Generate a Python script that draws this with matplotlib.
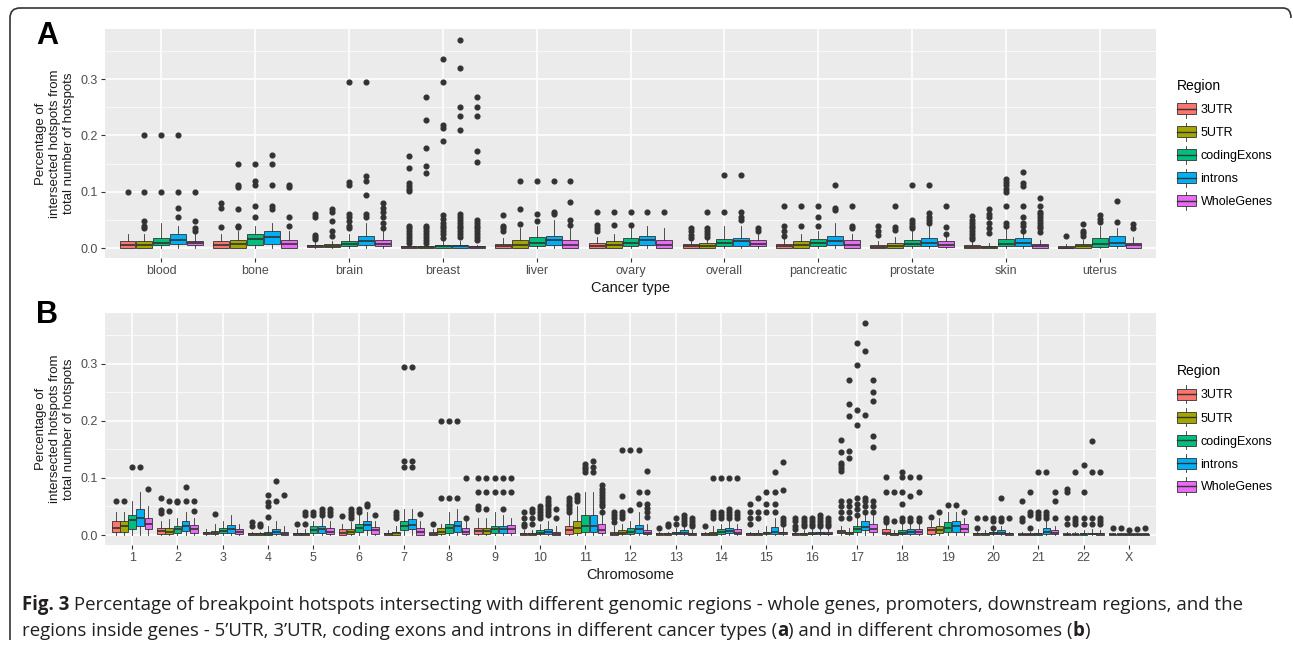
import matplotlib
matplotlib.use('Agg')
import matplotlib.pyplot as plt
from matplotlib.patches import Rectangle, Patch, PathPatch
from matplotlib.path import Path
from matplotlib.lines import Line2D
from matplotlib.legend_handler import HandlerBase

# ---------------- data ----------------
regions = ['3UTR', '5UTR', 'codingExons', 'introns', 'WholeGenes']
region_colors = ['#F8766D', '#A3A500', '#00BF7D', '#00B0F6', '#E76BF3']

cancer_types = ['blood', 'bone', 'brain', 'breast', 'liver', 'ovary', 'overall',
                'pancreatic', 'prostate', 'skin', 'uterus']
chromosomes = [str(i) for i in range(1, 23)] + ['X']

# box stats: (whisker low, q1, median, q3, whisker high)
a_3utr_box = [(0, 0.0, 0.005, 0.012, 0.025), (0, 0.0, 0.006, 0.013, 0.025), (0, 0.002, 0.004, 0.006, 0.012),
              (0, 0.001, 0.002, 0.003, 0.006), (0, 0.0, 0.003, 0.008, 0.018), (0, 0.0, 0.004, 0.009, 0.02),
              (0, 0.0, 0.003, 0.007, 0.014), (0, 0.0, 0.004, 0.008, 0.016), (0, 0.0, 0.002, 0.006, 0.012),
              (0, 0.0, 0.002, 0.006, 0.012), (0, 0.0, 0.001, 0.004, 0.008)]
a_3utr_out = [[0.1], [0.038, 0.072, 0.08], [0.016, 0.02, 0.023, 0.055, 0.06],
              [0.01, 0.015, 0.02, 0.025, 0.03, 0.035, 0.04, 0.101, 0.105, 0.11, 0.115, 0.142, 0.164],
              [0.03, 0.035, 0.04, 0.058], [0.03, 0.035, 0.041, 0.065], [0.018, 0.024, 0.03, 0.035],
              [0.022, 0.03, 0.039, 0.074], [0.023, 0.03, 0.039],
              [0.016, 0.02, 0.025, 0.03, 0.035, 0.04, 0.045, 0.05, 0.057], [0.022]]

a_5utr_box = [(0, 0.0, 0.005, 0.012, 0.025), (0, 0.0, 0.007, 0.015, 0.03), (0, 0.002, 0.004, 0.007, 0.012),
              (0, 0.001, 0.002, 0.003, 0.006), (0, 0.0, 0.006, 0.015, 0.035), (0, 0.0, 0.006, 0.012, 0.025),
              (0, 0.0, 0.004, 0.01, 0.015), (0, 0.0, 0.005, 0.012, 0.025), (0, 0.0, 0.004, 0.01, 0.02),
              (0, 0.0, 0.002, 0.004, 0.01), (0, 0.0, 0.003, 0.008, 0.015)]
a_5utr_out = [[0.035, 0.04, 0.048, 0.1, 0.2], [0.037, 0.04, 0.07, 0.108, 0.112, 0.15],
              [0.022, 0.03, 0.048, 0.065, 0.07],
              [0.01, 0.015, 0.02, 0.025, 0.03, 0.035, 0.04, 0.133, 0.146, 0.178, 0.228, 0.269],
              [0.042, 0.07, 0.12], [0.041, 0.065], [0.02, 0.025, 0.03, 0.035, 0.065], [0.039, 0.074],
              [0.033, 0.037, 0.074], [0.027, 0.035, 0.045, 0.055, 0.06, 0.07], [0.022, 0.026, 0.03, 0.042]]

a_cod_box = [(0, 0.005, 0.01, 0.018, 0.045), (0, 0.005, 0.017, 0.025, 0.04), (0, 0.003, 0.007, 0.012, 0.025),
             (0, 0.001, 0.003, 0.005, 0.012), (0, 0.003, 0.01, 0.02, 0.04), (0, 0.003, 0.01, 0.018, 0.035),
             (0, 0.003, 0.01, 0.017, 0.04), (0, 0.004, 0.01, 0.017, 0.03), (0, 0.003, 0.007, 0.014, 0.03),
             (0, 0.003, 0.008, 0.016, 0.035), (0, 0.002, 0.008, 0.018, 0.04)]
a_cod_out = [[0.1, 0.2], [0.055, 0.075, 0.112, 0.12, 0.15],
             [0.035, 0.04, 0.048, 0.055, 0.06, 0.112, 0.118, 0.295],
             [0.018, 0.025, 0.03, 0.035, 0.04, 0.045, 0.052, 0.058, 0.19, 0.214, 0.219, 0.295, 0.336],
             [0.048, 0.06, 0.12], [0.041, 0.065], [0.065, 0.13], [0.04, 0.055, 0.074],
             [0.035, 0.04, 0.045, 0.05, 0.112], [0.04, 0.045, 0.074, 0.1, 0.105, 0.112, 0.118, 0.122],
             [0.046, 0.052, 0.058]]

a_int_box = [(0, 0.008, 0.015, 0.025, 0.04), (0, 0.008, 0.02, 0.03, 0.045), (0, 0.005, 0.012, 0.022, 0.045),
             (0, 0.001, 0.003, 0.005, 0.012), (0, 0.005, 0.014, 0.022, 0.05), (0, 0.006, 0.015, 0.022, 0.04),
             (0, 0.004, 0.012, 0.018, 0.04), (0, 0.006, 0.013, 0.022, 0.045), (0, 0.004, 0.01, 0.018, 0.04),
             (0, 0.004, 0.01, 0.018, 0.035), (0, 0.003, 0.01, 0.022, 0.035)]
a_int_out = [[0.055, 0.072, 0.1, 0.2], [0.07, 0.075, 0.112, 0.15, 0.165],
             [0.055, 0.06, 0.095, 0.12, 0.128, 0.295],
             [0.02, 0.025, 0.03, 0.035, 0.04, 0.045, 0.05, 0.055, 0.06, 0.209, 0.234, 0.25, 0.32, 0.369],
             [0.06, 0.065, 0.12], [0.065], [0.05, 0.055, 0.065, 0.13], [0.068, 0.072, 0.112],
             [0.045, 0.05, 0.055, 0.063, 0.112], [0.03, 0.04, 0.045, 0.055, 0.074, 0.11, 0.116, 0.135],
             [0.046, 0.083]]

a_whole_box = [(0, 0.005, 0.009, 0.013, 0.025), (0, 0.0, 0.007, 0.015, 0.03), (0, 0.003, 0.008, 0.015, 0.03),
               (0, 0.001, 0.002, 0.003, 0.006), (0, 0.0, 0.006, 0.015, 0.035), (0, 0.0, 0.006, 0.014, 0.035),
               (0, 0.003, 0.008, 0.014, 0.025), (0, 0.0, 0.006, 0.014, 0.025), (0, 0.002, 0.006, 0.013, 0.02),
               (0, 0.0, 0.003, 0.008, 0.015), (0, 0.001, 0.005, 0.01, 0.02)]
a_whole_out = [[0.03, 0.035, 0.048, 0.1], [0.04, 0.055, 0.108, 0.112],
               [0.035, 0.045, 0.055, 0.065, 0.072, 0.08],
               [0.015, 0.02, 0.025, 0.03, 0.035, 0.04, 0.045, 0.05, 0.153, 0.173, 0.234, 0.25, 0.269],
               [0.041, 0.05, 0.082, 0.12], [0.065], [0.03, 0.035], [0.035, 0.04, 0.074],
               [0.025, 0.038, 0.074], [0.028, 0.035, 0.04, 0.045, 0.05, 0.055, 0.06, 0.065, 0.075, 0.089],
               [0.035, 0.042]]

b_3utr_box = [(0, 0.005, 0.013, 0.025, 0.04), (0, 0.002, 0.007, 0.012, 0.025), (0, 0.001, 0.003, 0.006, 0.01),
              (0, 0.0, 0.001, 0.003, 0.006), (0, 0.0, 0.002, 0.004, 0.01), (0, 0.0, 0.004, 0.01, 0.02),
              (0, 0.0, 0.002, 0.004, 0.008), (0, 0.0, 0.002, 0.005, 0.01), (0, 0.002, 0.007, 0.012, 0.03),
              (0, 0.0, 0.001, 0.004, 0.008), (0, 0.002, 0.008, 0.015, 0.035), (0, 0.0, 0.002, 0.006, 0.015),
              (0, 0.0, 0.001, 0.003, 0.006), (0, 0.0, 0.001, 0.003, 0.006), (0, 0.0, 0.001, 0.003, 0.006),
              (0, 0.0, 0.001, 0.004, 0.008), (0, 0.003, 0.005, 0.008, 0.015), (0, 0.001, 0.004, 0.01, 0.02),
              (0, 0.002, 0.008, 0.014, 0.025), (0, 0.0, 0.001, 0.003, 0.006), (0, 0.0, 0.001, 0.002, 0.005),
              (0, 0.0, 0.001, 0.002, 0.005), (0, 0.0, 0.001, 0.002, 0.004)]
b_3utr_out = [[0.06], [0.038, 0.043, 0.065], [], [0.015, 0.022], [0.02], [0.033], [], [0.02],
              [0.045, 0.05, 0.075, 0.1], [0.015, 0.02, 0.03, 0.04], [0.04, 0.045, 0.05, 0.055, 0.06, 0.065],
              [0.023, 0.03, 0.035, 0.04], [0.012], [0.015], [0.02, 0.03, 0.04, 0.055], [0.01, 0.015, 0.025, 0.03],
              [0.03, 0.04, 0.05, 0.06, 0.113, 0.118, 0.122, 0.126, 0.145, 0.167],
              [0.022, 0.026, 0.03, 0.076, 0.102], [0.032], [0.013, 0.03], [0.025, 0.03, 0.06],
              [0.02, 0.03, 0.076, 0.08], [0.012]]

b_5utr_box = [(0, 0.005, 0.015, 0.025, 0.04), (0, 0.002, 0.006, 0.012, 0.028), (0, 0.001, 0.004, 0.007, 0.02),
              (0, 0.0, 0.001, 0.003, 0.006), (0, 0.0, 0.002, 0.004, 0.01), (0, 0.001, 0.005, 0.01, 0.022),
              (0, 0.0, 0.003, 0.006, 0.015), (0, 0.002, 0.006, 0.012, 0.02), (0, 0.002, 0.007, 0.012, 0.03),
              (0, 0.0, 0.001, 0.004, 0.008), (0, 0.004, 0.012, 0.025, 0.05), (0, 0.001, 0.004, 0.008, 0.02),
              (0, 0.0, 0.001, 0.003, 0.006), (0, 0.0, 0.002, 0.006, 0.015), (0, 0.0, 0.001, 0.004, 0.008),
              (0, 0.0, 0.001, 0.004, 0.008), (0, 0.002, 0.004, 0.006, 0.012), (0, 0.0, 0.002, 0.004, 0.008),
              (0, 0.003, 0.008, 0.015, 0.03), (0, 0.0, 0.001, 0.004, 0.008), (0, 0.0, 0.001, 0.002, 0.005),
              (0, 0.0, 0.001, 0.002, 0.005), (0, 0.0, 0.001, 0.002, 0.004)]
b_5utr_out = [[0.06], [0.042, 0.059], [0.037], [0.015, 0.02], [0.02, 0.035, 0.04], [0.03, 0.035, 0.04, 0.045],
              [0.03, 0.035, 0.04], [0.065, 0.2], [0.045, 0.075, 0.1], [0.02, 0.03, 0.04, 0.045],
              [0.06, 0.065, 0.07], [0.03, 0.035, 0.04, 0.069, 0.149], [0.015, 0.02], [0.03, 0.035, 0.04, 0.1],
              [0.03, 0.04, 0.065], [0.015, 0.02, 0.025, 0.03],
              [0.03, 0.04, 0.05, 0.06, 0.135, 0.148, 0.208, 0.23, 0.272], [0.025, 0.076], [0.041], [0.03],
              [0.012, 0.035, 0.04, 0.076], [0.02, 0.025, 0.03, 0.111], [0.013]]

b_cod_box = [(0, 0.01, 0.027, 0.035, 0.06), (0, 0.004, 0.01, 0.016, 0.03), (0, 0.003, 0.007, 0.012, 0.025),
             (0, 0.0, 0.002, 0.006, 0.015), (0, 0.003, 0.009, 0.015, 0.025), (0, 0.006, 0.012, 0.02, 0.035),
             (0, 0.008, 0.015, 0.025, 0.045), (0, 0.004, 0.012, 0.02, 0.04), (0, 0.004, 0.01, 0.016, 0.04),
             (0, 0.001, 0.004, 0.008, 0.02), (0, 0.005, 0.015, 0.035, 0.075), (0, 0.002, 0.006, 0.012, 0.025),
             (0, 0.001, 0.003, 0.006, 0.012), (0, 0.002, 0.005, 0.01, 0.02), (0, 0.001, 0.003, 0.006, 0.015),
             (0, 0.001, 0.002, 0.005, 0.01), (0, 0.005, 0.01, 0.015, 0.03), (0, 0.001, 0.003, 0.008, 0.02),
             (0, 0.005, 0.012, 0.022, 0.04), (0, 0.001, 0.003, 0.006, 0.012), (0, 0.0, 0.002, 0.004, 0.01),
             (0, 0.0, 0.001, 0.003, 0.008), (0, 0.0, 0.001, 0.002, 0.004)]
b_cod_out = [[0.12], [0.057, 0.06], [], [0.032, 0.05, 0.058, 0.07], [0.035, 0.04], [0.04, 0.045],
             [0.12, 0.13, 0.295], [0.065, 0.2], [0.075, 0.1], [0.03, 0.035, 0.04, 0.045, 0.05],
             [0.11, 0.115, 0.12, 0.125], [0.044, 0.149], [0.02, 0.03], [0.03, 0.035, 0.04, 0.1],
             [0.04, 0.055, 0.076], [0.015, 0.02, 0.025, 0.03],
             [0.035, 0.045, 0.055, 0.065, 0.192, 0.219, 0.298, 0.337], [0.025, 0.03, 0.055, 0.076, 0.102, 0.11],
             [0.053], [0.013, 0.025, 0.03], [0.03, 0.035, 0.04, 0.11], [0.02, 0.03, 0.076, 0.123], [0.008]]

b_int_box = [(0, 0.015, 0.03, 0.045, 0.075), (0, 0.007, 0.016, 0.025, 0.04), (0, 0.004, 0.01, 0.018, 0.035),
             (0, 0.001, 0.005, 0.01, 0.025), (0, 0.004, 0.01, 0.016, 0.03), (0, 0.008, 0.018, 0.025, 0.04),
             (0, 0.01, 0.018, 0.028, 0.045), (0, 0.006, 0.015, 0.025, 0.045), (0, 0.004, 0.01, 0.016, 0.035),
             (0, 0.001, 0.005, 0.01, 0.025), (0, 0.005, 0.015, 0.035, 0.075), (0, 0.004, 0.01, 0.018, 0.04),
             (0, 0.001, 0.004, 0.008, 0.015), (0, 0.003, 0.007, 0.012, 0.025), (0, 0.002, 0.006, 0.014, 0.03),
             (0, 0.001, 0.003, 0.006, 0.012), (0, 0.008, 0.014, 0.025, 0.04), (0, 0.002, 0.005, 0.01, 0.022),
             (0, 0.006, 0.015, 0.025, 0.04), (0, 0.001, 0.004, 0.008, 0.015), (0, 0.002, 0.006, 0.012, 0.025),
             (0, 0.001, 0.002, 0.004, 0.01), (0, 0.0, 0.001, 0.002, 0.004)]
b_int_out = [[0.12], [0.06, 0.085], [], [0.059, 0.095], [0.035, 0.04, 0.045], [0.05, 0.055],
             [0.12, 0.13, 0.295], [0.065, 0.2], [0.045, 0.075, 0.1], [0.035, 0.04, 0.045, 0.05, 0.055, 0.06, 0.065],
             [0.11, 0.12, 0.13], [0.055, 0.076, 0.149], [0.02, 0.025, 0.03, 0.035], [0.03, 0.035, 0.04, 0.045, 0.1],
             [0.04, 0.055, 0.076, 0.111], [0.015, 0.02, 0.025, 0.03, 0.035],
             [0.04, 0.05, 0.06, 0.065, 0.211, 0.323, 0.371], [0.025, 0.03, 0.069, 0.102], [0.053],
             [0.025, 0.03, 0.065], [0.03, 0.035, 0.04, 0.11], [0.02, 0.03, 0.111, 0.165], [0.01]]

b_whole_box = [(0, 0.01, 0.02, 0.03, 0.05), (0, 0.004, 0.01, 0.018, 0.03), (0, 0.002, 0.006, 0.01, 0.02),
               (0, 0.0, 0.002, 0.006, 0.015), (0, 0.002, 0.006, 0.012, 0.025), (0, 0.002, 0.008, 0.014, 0.025),
               (0, 0.0, 0.005, 0.012, 0.025), (0, 0.002, 0.006, 0.012, 0.025), (0, 0.004, 0.01, 0.018, 0.03),
               (0, 0.0, 0.002, 0.006, 0.015), (0, 0.003, 0.008, 0.02, 0.045), (0, 0.002, 0.004, 0.008, 0.02),
               (0, 0.0, 0.002, 0.004, 0.008), (0, 0.001, 0.004, 0.01, 0.02), (0, 0.001, 0.003, 0.006, 0.015),
               (0, 0.001, 0.002, 0.005, 0.01), (0, 0.005, 0.01, 0.02, 0.035), (0, 0.002, 0.005, 0.01, 0.02),
               (0, 0.005, 0.01, 0.02, 0.03), (0, 0.0, 0.001, 0.003, 0.006), (0, 0.001, 0.004, 0.008, 0.015),
               (0, 0.0, 0.001, 0.003, 0.008), (0, 0.0, 0.001, 0.002, 0.004)]
b_whole_out = [[0.081], [0.042, 0.06], [], [0.07], [0.035, 0.04, 0.045], [0.035], [0.037], [0.03, 0.1],
               [0.075, 0.1], [0.03, 0.045], [0.04, 0.05, 0.055, 0.06, 0.065, 0.07, 0.075, 0.08, 0.088],
               [0.032, 0.04, 0.048, 0.055, 0.076, 0.112], [0.015, 0.02, 0.025, 0.03], [0.03, 0.035, 0.04, 0.1],
               [0.02, 0.025, 0.03, 0.078, 0.128], [0.015, 0.02, 0.025, 0.03],
               [0.04, 0.05, 0.06, 0.155, 0.174, 0.235, 0.251, 0.272], [0.025, 0.03, 0.076, 0.102], [0.041],
               [0.03], [0.03, 0.06, 0.076], [0.02, 0.025, 0.03, 0.111], [0.013]]

panel_a = [(a_3utr_box, a_3utr_out), (a_5utr_box, a_5utr_out), (a_cod_box, a_cod_out),
           (a_int_box, a_int_out), (a_whole_box, a_whole_out)]
panel_b = [(b_3utr_box, b_3utr_out), (b_5utr_box, b_5utr_out), (b_cod_box, b_cod_out),
           (b_int_box, b_int_out), (b_whole_box, b_whole_out)]

W, H = 1293, 651
plt.rcParams['font.family'] = ['Liberation Sans', 'DejaVu Sans']
fig = plt.figure(figsize=(W / 100, H / 100), dpi=100)


def fx(x):
    return x / W


def fy(y):
    return 1 - y / H


class BoxHandler(HandlerBase):
    # small boxplot glyph like ggplot legend keys
    def create_artists(self, legend, orig_handle, xdescent, ydescent, width, height, fontsize, trans):
        fc = orig_handle.get_facecolor()
        x0, y0 = -xdescent, -ydescent
        wl = Line2D([x0 + width / 2] * 2, [y0 - height * 0.25, y0 + height * 1.25],
                    color='#333333', lw=0.6, transform=trans)
        box = Rectangle((x0, y0 + height * 0.05), width, height * 0.9, facecolor=fc,
                        edgecolor='#333333', lw=0.6, transform=trans)
        med = Line2D([x0, x0 + width], [y0 + height / 2] * 2, color='#333333', lw=1.0, transform=trans)
        return [wl, box, med]


def draw_panel(ax, cats, panel, xlabel):
    n = len(cats)
    ax.set_facecolor('#EBEBEB')
    for s in ax.spines.values():
        s.set_visible(False)
    ax.set_axisbelow(True)
    for j, (boxes, outs) in enumerate(panel):
        stats = [dict(whislo=b[0], q1=b[1], med=b[2], q3=b[3], whishi=b[4], fliers=o)
                 for b, o in zip(boxes, outs)]
        pos = [i + 1 + (j - 2) * 0.18 for i in range(n)]
        ax.bxp(stats, positions=pos, widths=0.17, patch_artist=True, showcaps=False,
               boxprops=dict(facecolor=region_colors[j], edgecolor='#333333', linewidth=0.6),
               medianprops=dict(color='#333333', linewidth=1.2),
               whiskerprops=dict(color='#333333', linewidth=0.6),
               flierprops=dict(marker='o', markersize=3.4, markerfacecolor='#333333',
                               markeredgecolor='#333333', linestyle='none'),
               manage_ticks=False)
    ax.set_xlim(0.4, n + 0.6)
    ax.set_ylim(-0.0175, 0.389)
    ax.set_xticks(range(1, n + 1))
    ax.set_xticklabels(cats)
    ax.set_yticks([0, 0.1, 0.2, 0.3])
    ax.set_yticklabels(['0.0', '0.1', '0.2', '0.3'])
    ax.set_yticks([0.05, 0.15, 0.25, 0.35], minor=True)
    ax.grid(True, which='major', color='white', linewidth=1.1)
    ax.grid(True, which='minor', axis='y', color='white', linewidth=0.5)
    ax.tick_params(which='major', length=3, width=0.8, color='#333333', labelcolor='#4D4D4D',
                   labelsize=9, pad=2)
    ax.tick_params(which='minor', length=0)
    ax.set_xlabel(xlabel, fontsize=10.5, color='#1A1A1A', labelpad=3)
    ax.set_ylabel('Percentage of\nintersected hotspots from\ntotal number of hotspots',
                  fontsize=9.5, color='#1A1A1A', multialignment='center')
    ax.yaxis.set_label_coords(-30 / 1051, 0.5)
    handles = [Patch(facecolor=c) for c in region_colors]
    ax.legend(handles, regions, title='Region', loc='center left', bbox_to_anchor=(1.015, 0.5),
              borderaxespad=0, frameon=False, fontsize=9, title_fontsize=10, alignment='left',
              handlelength=1.5, handleheight=1.1, labelspacing=0.78, handletextpad=0.4,
              handler_map={Patch: BoxHandler()})


ax_a = fig.add_axes([fx(105), fy(258), fx(1156) - fx(105), fy(29) - fy(258)])
draw_panel(ax_a, cancer_types, panel_a, 'Cancer type')
ax_b = fig.add_axes([fx(105), fy(545), fx(1156) - fx(105), fy(313) - fy(545)])
draw_panel(ax_b, chromosomes, panel_b, 'Chromosome')

fig.text(fx(47), fy(36), 'A', fontsize=22, fontweight='heavy', ha='center', va='center')
fig.text(fx(47), fy(315), 'B', fontsize=22, fontweight='heavy', ha='center', va='center')

# frame round the figure
verts = [(10, 640), (10, 18), (10, 8), (20, 8), (1283, 8), (1291, 8), (1291, 18)]
codes = [Path.MOVETO, Path.LINETO, Path.CURVE3, Path.CURVE3, Path.LINETO, Path.CURVE3, Path.CURVE3]
frame = Path([(fx(x), fy(y)) for x, y in verts], codes)
fig.add_artist(PathPatch(frame, facecolor='none', edgecolor='#333333', lw=1.2,
                         transform=fig.transFigure))

# caption with bold parts
cap_font = ['Open Sans', 'DejaVu Sans']
lines = [
    [('Fig. 3', 'bold'), (' Percentage of breakpoint hotspots intersecting with different genomic regions'
                          ' - whole genes, promoters, downstream regions, and the', 'normal')],
    [('regions inside genes - 5\u2019UTR, 3\u2019UTR, coding exons and introns in different cancer types (',
      'normal'), ('a', 'bold'), (') and in different chromosomes (', 'normal'), ('b', 'bold'), (')', 'normal')],
]
renderer = fig.canvas.get_renderer()


def place_line(pieces, y, size):
    x = 22
    made = []
    for txt, wt in pieces:
        t = fig.text(fx(x), fy(y), txt, fontsize=size, fontweight=wt, family=cap_font,
                     color='#231F20', ha='left', va='baseline')
        x += t.get_window_extent(renderer).width
        made.append(t)
    return made, x


# size the caption so the first line ends where it does in the figure
probe, end = place_line(lines[0], 610, 12)
for t in probe:
    t.remove()
cap_size = 12 * (1238 - 22) / (end - 22)
for k, pieces in enumerate(lines):
    place_line(pieces, 610 + 26 * k, cap_size)

fig.savefig('out.png', dpi=100)
